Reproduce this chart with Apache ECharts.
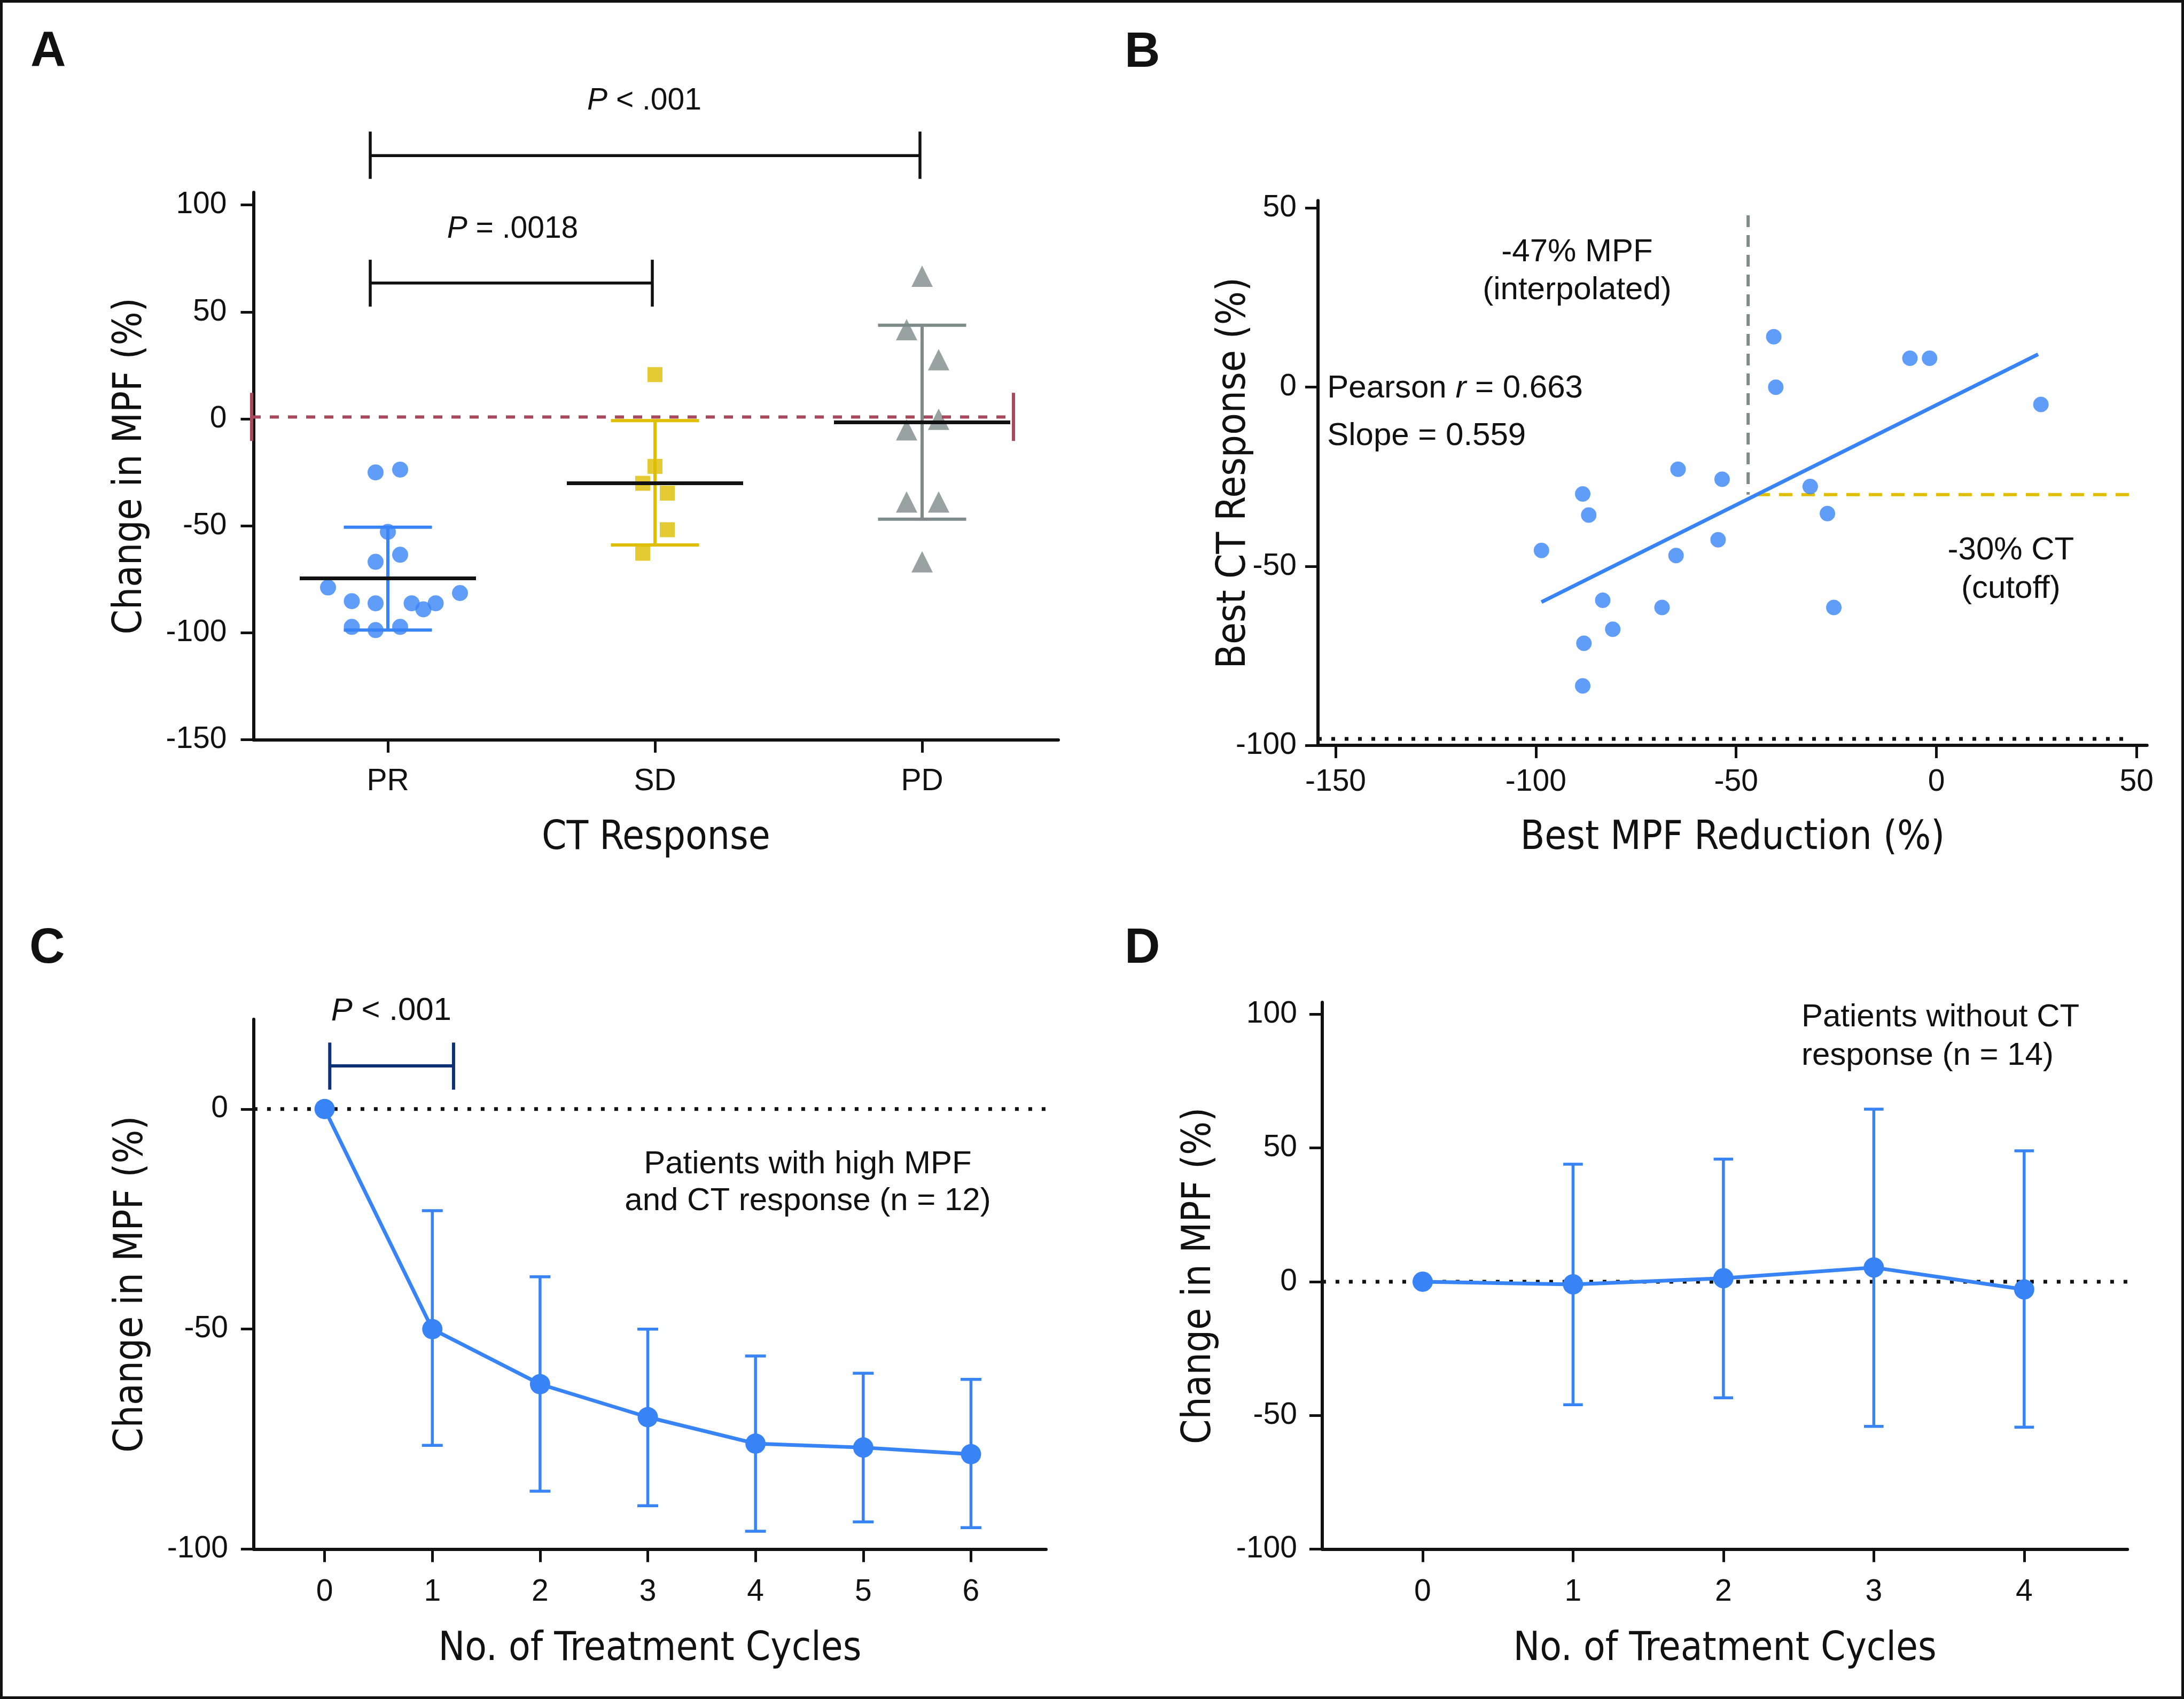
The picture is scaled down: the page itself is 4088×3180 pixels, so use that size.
<!DOCTYPE html>
<html>
<head>
<meta charset="utf-8">
<title>MPF change and CT response</title>
<script src="https://cdn.jsdelivr.net/npm/echarts@6/dist/echarts.min.js"></script>
<style>
  html, body { margin: 0; padding: 0; background: #fff; }
  #chartcontainer { width: 4088px; height: 3180px; }
</style>
</head>
<body>
<div id="chartcontainer"></div>
<script>
// ---- panel A: change in MPF by CT response ----
const groups = ['PR', 'SD', 'PD']
const prValues = [-25, -23.7, -52.8, -66.8, -63.5, -78.8, -81.4, -85.2, -86.2, -86.2, -86.2, -89, -97.2, -98.7, -97.2]
const prJitter = [-0.046, 0.046, 0, -0.046, 0.046, -0.224, 0.27, -0.135, -0.046, 0.089, 0.179, 0.133, -0.135, -0.046, 0.046]
const sdValues = [20.7, -22.2, -30.1, -34.7, -51.8, -62.8]
const sdJitter = [0, 0, -0.046, 0.046, 0.046, -0.046]
const pdValues = [66.7, 41.7, 27.7, -0.2, -5.1, -38.8, -38.8, -66.8]
const pdJitter = [0, -0.058, 0.062, 0.062, -0.058, -0.058, 0.062, 0]
const groupMean = [-74.5, -30.1, -1.6]
const groupSdHi = [-50.6, -0.8, 43.8]
const groupSdLo = [-98.7, -58.9, -46.9]
const refLineA = [-0.51, 2.342, 0.9, 12.2, -10.3] // x from, x to, y, cap top, cap bottom
const bracketsA = [[-0.066, 1.992, 123.1, 134.3, 112.2], [-0.066, 0.99, 63.5, 74.4, 52.5]]
const ticksA = [-150, -100, -50, 0, 50, 100]

// ---- panel B: best MPF reduction vs best CT response ----
const bestMpf = [-40.6, -40.1, -6.6, -1.7, 26.1, -64.5, -53.5, -88.3, -86.8, -31.5, -27.2, -98.6, -54.5, -65, -83.3, -68.5, -25.6, -80.8, -88, -88.3]
const bestCt = [14.1, 0, 8.1, 8.1, -4.8, -22.9, -25.7, -29.8, -35.7, -27.7, -35.3, -45.6, -42.6, -47, -59.5, -61.5, -61.5, -67.6, -71.5, -83.4]
const fitX = [-98.6, 25.4]
const fitY = [-60, 9.2]
const mpfCut = [[-47, 48], [-47, -30]]
const ctCut = [[-44.9, -30], [48.3, -30]]
const floorLine = [[-154.4, -98.2], [48.3, -98.2]]
const ticksBx = [-150, -100, -50, 0, 50]
const ticksBy = [-100, -50, 0, 50]

// ---- panel C: patients with high MPF and CT response ----
const cycleC = [0, 1, 2, 3, 4, 5, 6]
const meanC = [0, -50, -62.5, -70, -76, -76.9, -78.4]
const upperC = [null, -23.1, -38.1, -50, -56.1, -60, -61.4]
const lowerC = [null, -76.4, -86.8, -90.1, -95.9, -93.8, -95.1]
const bracketC = [[0.048, 1.197, 9.8, 15.1, 4.4]]
const ticksCy = [-100, -50, 0]

// ---- panel D: patients without CT response ----
const cycleD = [0, 1, 2, 3, 4]
const meanD = [0, -1, 1.3, 5.3, -2.9]
const upperD = [null, 43.9, 45.8, 64.5, 48.9]
const lowerD = [null, -46, -43.4, -54.1, -54.4]
const ticksDy = [-100, -50, 0, 50, 100]

const blue = '#3884F6'
const yellow = '#DFBE00'
const gray = '#7E8B89'
const red = '#A8485A'
const navy = '#0E3275'
const ink = '#111111'
const tickFont = "'Liberation Sans', Arial, sans-serif"
const titleFont = "'Liberation Sans Narrow', 'DejaVu Sans Condensed', sans-serif"

function axis (gridIndex, min, max, ticks, name, nameGap, margin, formatter) {
  return {
    type: 'value',
    gridIndex,
    min,
    max,
    name,
    nameGap,
    nameLocation: 'middle',
    nameMoveOverlap: false,
    nameTextStyle: { color: ink, fontSize: 74, fontFamily: titleFont },
    axisLine: { show: true, onZero: false, lineStyle: { color: ink, width: 6 } },
    axisTick: { show: true, length: 24, customValues: ticks, lineStyle: { color: ink, width: 5 } },
    axisLabel: { customValues: ticks, margin, color: ink, fontSize: 57, fontFamily: tickFont, formatter },
    splitLine: { show: false }
  }
}

function bracket (color, width, dash) {
  return function (params, api) {
    const a = api.coord([api.value(0), api.value(2)])
    const b = api.coord([api.value(1), api.value(2)])
    const top = api.coord([api.value(0), api.value(3)])[1]
    const bot = api.coord([api.value(0), api.value(4)])[1]
    const solid = { stroke: color, lineWidth: width }
    return {
      type: 'group',
      children: [
        { type: 'line', shape: { x1: a[0], y1: a[1], x2: b[0], y2: b[1] }, style: { stroke: color, lineWidth: width, lineDash: dash || null } },
        { type: 'line', shape: { x1: a[0], y1: top, x2: a[0], y2: bot }, style: solid },
        { type: 'line', shape: { x1: b[0], y1: top, x2: b[0], y2: bot }, style: solid }
      ]
    }
  }
}

function labels (texts, align, size) {
  return function (params, api) {
    const p = api.coord([api.value(0), api.value(1)])
    return {
      type: 'text',
      x: p[0],
      y: p[1],
      style: {
        text: texts[params.dataIndex],
        fill: ink,
        fontSize: size,
        fontFamily: tickFont,
        align,
        verticalAlign: 'middle',
        rich: { i: { fontStyle: 'italic', fontSize: size, fontFamily: tickFont, fill: ink } }
      }
    }
  }
}

function errorBars (capHalf) {
  return function (params, api) {
    const top = api.coord([api.value(0), api.value(1)])
    const bot = api.coord([api.value(0), api.value(2)])
    const st = { stroke: blue, lineWidth: 5.5 }
    return {
      type: 'group',
      children: [
        { type: 'line', shape: { x1: top[0], y1: top[1], x2: bot[0], y2: bot[1] }, style: st },
        { type: 'line', shape: { x1: top[0] - capHalf, y1: top[1], x2: top[0] + capHalf, y2: top[1] }, style: st },
        { type: 'line', shape: { x1: bot[0] - capHalf, y1: bot[1], x2: bot[0] + capHalf, y2: bot[1] }, style: st }
      ]
    }
  }
}

function summaryA (params, api) {
  const i = params.dataIndex
  const x = api.value(0)
  const c = [blue, yellow, gray][i]
  const mL = api.coord([x - 0.33, api.value(1)])
  const mR = api.coord([x + 0.33, api.value(1)])
  const hi = api.coord([x, api.value(2)])
  const lo = api.coord([x, api.value(3)])
  const cL = api.coord([x - 0.165, 0])[0]
  const cR = api.coord([x + 0.165, 0])[0]
  const st = { stroke: c, lineWidth: 6 }
  return {
    type: 'group',
    children: [
      { type: 'line', shape: { x1: hi[0], y1: hi[1], x2: lo[0], y2: lo[1] }, style: st },
      { type: 'line', shape: { x1: cL, y1: hi[1], x2: cR, y2: hi[1] }, style: st },
      { type: 'line', shape: { x1: cL, y1: lo[1], x2: cR, y2: lo[1] }, style: st },
      { type: 'line', shape: { x1: mL[0], y1: mL[1], x2: mR[0], y2: mR[1] }, style: { stroke: ink, lineWidth: 7 } }
    ]
  }
}

const pairs = (xs, ys) => xs.map((x, i) => [x, ys[i]])
const lineStyleOf = (color, width, type) => ({ color, width, type })

const chart = echarts.init(document.getElementById('chartcontainer'))
chart.setOption({
  animation: false,
  backgroundColor: '#ffffff',
  grid: [
    { left: 474.5, top: 360, width: 1506.5, height: 1024.7, outerBoundsMode: 'none' },
    { left: 2467, top: 375.5, width: 1551.8, height: 1019.5, outerBoundsMode: 'none' },
    { left: 474.9, top: 1907.7, width: 1483.1, height: 992, outerBoundsMode: 'none' },
    { left: 2474.9, top: 1876.1, width: 1507.3, height: 1023.6, outerBoundsMode: 'none' }
  ],
  xAxis: [
    axis(0, -0.503, 2.51, [0, 1, 2], 'CT Response', 148, 50, v => groups[v] || ''),
    axis(1, -154.4, 52.6, ticksBx, 'Best MPF Reduction (%)', 138, 41),
    axis(2, -0.658, 6.697, cycleC, 'No. of Treatment Cycles', 151, 52),
    axis(3, -0.668, 4.687, cycleD, 'No. of Treatment Cycles', 151, 52)
  ],
  yAxis: [
    axis(0, -150, 105.9, ticksA, 'Change in MPF (%)', 193, 50),
    axis(1, -100, 52.1, ticksBy, 'Best CT Response (%)', 119, 40),
    axis(2, -100, 20.4, ticksCy, 'Change in MPF (%)', 191, 48),
    axis(3, -100, 104.4, ticksDy, 'Change in MPF (%)', 192, 47)
  ],
  graphic: [
    { type: 'rect', shape: { x: 2.5, y: 2.5, width: 4083, height: 3175 }, style: { fill: null, stroke: ink, lineWidth: 5 } },
    { type: 'text', left: 57, top: 52, style: { text: 'A', fontSize: 92, fontWeight: 'bold', fontFamily: tickFont, fill: ink } },
    { type: 'text', left: 2105, top: 54, style: { text: 'B', fontSize: 92, fontWeight: 'bold', fontFamily: tickFont, fill: ink } },
    { type: 'text', left: 55, top: 1731, style: { text: 'C', fontSize: 92, fontWeight: 'bold', fontFamily: tickFont, fill: ink } },
    { type: 'text', left: 2105, top: 1731, style: { text: 'D', fontSize: 92, fontWeight: 'bold', fontFamily: tickFont, fill: ink } }
  ],
  series: [
    // panel A
    { type: 'scatter', xAxisIndex: 0, yAxisIndex: 0, symbol: 'circle', symbolSize: 30, itemStyle: { color: blue }, z: 2,
      data: prValues.map((v, i) => [0 + prJitter[i], v]) },
    { type: 'scatter', xAxisIndex: 0, yAxisIndex: 0, symbol: 'rect', symbolSize: 28, itemStyle: { color: yellow }, z: 2,
      data: sdValues.map((v, i) => [1 + sdJitter[i], v]) },
    { type: 'scatter', xAxisIndex: 0, yAxisIndex: 0, symbol: 'triangle', symbolSize: 40, itemStyle: { color: gray }, z: 2,
      data: pdValues.map((v, i) => [2 + pdJitter[i], v]) },
    { type: 'custom', xAxisIndex: 0, yAxisIndex: 0, z: 3, clip: false, renderItem: summaryA,
      data: groups.map((g, i) => [i, groupMean[i], groupSdHi[i], groupSdLo[i]]) },
    { type: 'custom', xAxisIndex: 0, yAxisIndex: 0, z: 4, clip: false, renderItem: bracket(red, 6, [17, 17]),
      data: [refLineA] },
    { type: 'custom', xAxisIndex: 0, yAxisIndex: 0, z: 4, clip: false, renderItem: bracket(ink, 5.5),
      data: bracketsA },
    { type: 'custom', xAxisIndex: 0, yAxisIndex: 0, z: 4, clip: false,
      renderItem: labels(['{i|P} < .001', '{i|P} = .0018'], 'center', 57),
      data: [[0.96, 148.6], [0.467, 88.7]] },

    // panel B
    { type: 'line', xAxisIndex: 1, yAxisIndex: 1, showSymbol: false, symbol: 'none', z: 2,
      lineStyle: lineStyleOf(gray, 6, [22, 15]), data: mpfCut },
    { type: 'line', xAxisIndex: 1, yAxisIndex: 1, showSymbol: false, symbol: 'none', z: 2,
      lineStyle: lineStyleOf(yellow, 6, [25, 17]), data: ctCut },
    { type: 'line', xAxisIndex: 1, yAxisIndex: 1, showSymbol: false, symbol: 'none', z: 2,
      lineStyle: lineStyleOf(ink, 7, [7, 18]), data: floorLine },
    { type: 'line', xAxisIndex: 1, yAxisIndex: 1, showSymbol: false, symbol: 'none', z: 3,
      lineStyle: lineStyleOf(blue, 7, 'solid'), data: pairs(fitX, fitY) },
    { type: 'scatter', xAxisIndex: 1, yAxisIndex: 1, symbol: 'circle', symbolSize: 29, itemStyle: { color: blue }, z: 4,
      data: pairs(bestMpf, bestCt) },
    { type: 'custom', xAxisIndex: 1, yAxisIndex: 1, z: 4, clip: false,
      renderItem: labels(['-47% MPF', '(interpolated)', '-30% CT', '(cutoff)'], 'center', 60),
      data: [[-89.7, 37.7], [-89.7, 27], [18.6, -45.6], [18.6, -56.3]] },
    { type: 'custom', xAxisIndex: 1, yAxisIndex: 1, z: 4, clip: false,
      renderItem: labels(['Pearson {i|r} = 0.663', 'Slope = 0.559'], 'left', 60),
      data: [[-152.1, -0.4], [-152.1, -13.7]] },

    // panel C
    { type: 'line', xAxisIndex: 2, yAxisIndex: 2, showSymbol: false, symbol: 'none', z: 1,
      lineStyle: lineStyleOf(ink, 7, [7, 18]), data: [[-0.658, 0], [6.697, 0]] },
    { type: 'custom', xAxisIndex: 2, yAxisIndex: 2, z: 2, renderItem: errorBars(19.5),
      data: cycleC.map((c, i) => [c, upperC[i], lowerC[i]]).filter(d => d[1] !== null) },
    { type: 'line', xAxisIndex: 2, yAxisIndex: 2, symbol: 'circle', symbolSize: 38, z: 3,
      itemStyle: { color: blue }, lineStyle: lineStyleOf(blue, 7, 'solid'), data: pairs(cycleC, meanC) },
    { type: 'custom', xAxisIndex: 2, yAxisIndex: 2, z: 4, clip: false, renderItem: bracket(navy, 6),
      data: bracketC },
    { type: 'custom', xAxisIndex: 2, yAxisIndex: 2, z: 4, clip: false,
      renderItem: labels(['{i|P} < .001', 'Patients with high MPF', 'and CT response (n = 12)'], 'center', 60),
      data: [[0.619, 22.2], [4.485, -12.6], [4.485, -21]] },

    // panel D
    { type: 'line', xAxisIndex: 3, yAxisIndex: 3, showSymbol: false, symbol: 'none', z: 1,
      lineStyle: lineStyleOf(ink, 7, [7, 18]), data: [[-0.668, 0], [4.687, 0]] },
    { type: 'custom', xAxisIndex: 3, yAxisIndex: 3, z: 2, renderItem: errorBars(18.3),
      data: cycleD.map((c, i) => [c, upperD[i], lowerD[i]]).filter(d => d[1] !== null) },
    { type: 'line', xAxisIndex: 3, yAxisIndex: 3, symbol: 'circle', symbolSize: 38, z: 3,
      itemStyle: { color: blue }, lineStyle: lineStyleOf(blue, 7, 'solid'), data: pairs(cycleD, meanD) },
    { type: 'custom', xAxisIndex: 3, yAxisIndex: 3, z: 4, clip: false,
      renderItem: labels(['Patients without CT', 'response (n = 14)'], 'left', 60),
      data: [[2.519, 98.7], [2.519, 84.3]] }
  ]
})
</script>
</body>
</html>
